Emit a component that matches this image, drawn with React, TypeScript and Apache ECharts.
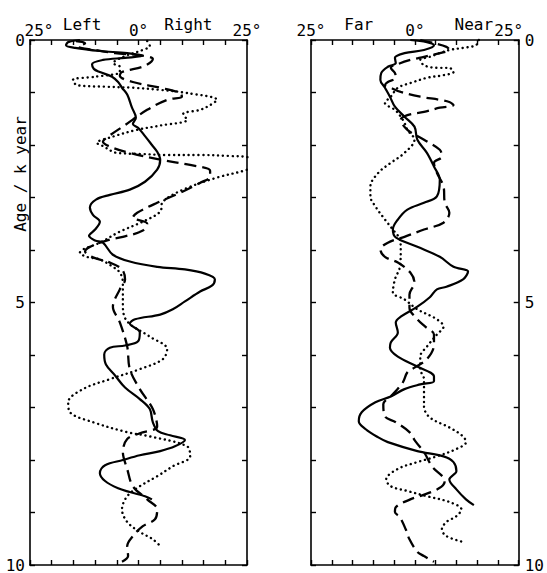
import { useEffect, useRef } from 'react';
import * as echarts from 'echarts';

const FONT = '"DejaVu Sans Mono", "Liberation Mono", monospace';
const INK = '#000000';

// Tick labels
const degreeTicks = [-25, 0, 25];
const ageTicks = [0, 5, 10];
const lateralWords = ['Left', 'Right'];
const depthWords = ['Far', 'Near'];

// Lateral deviation (deg) against age (k year)
const lateralSolid: number[][] = [
  [-13.5, 0], [-16.2, 0.04], [-16.7, 0.1], [-14.6, 0.15], [-8.9, 0.21], [-2.6, 0.25], [1.0, 0.3],
  [-3.1, 0.34], [-8.2, 0.38], [-10.7, 0.46], [-10.3, 0.55], [-8.9, 0.61], [-6.1, 0.7], [-4.7, 0.8],
  [-3.8, 0.91], [-2.6, 1.04], [-1.5, 1.29], [-0.6, 1.48], [-1.3, 1.6], [-0.1, 1.67], [1.5, 1.83],
  [3.1, 2.0], [4.3, 2.13], [5.0, 2.28], [4.3, 2.47], [1.5, 2.7], [-2.0, 2.85], [-6.6, 2.95],
  [-9.8, 3.04], [-11.2, 3.19], [-10.5, 3.33], [-8.9, 3.46], [-10.0, 3.61], [-11.4, 3.73], [-10.0, 3.82],
  [-8.2, 3.86], [-5.9, 4.09], [-2.0, 4.22], [4.3, 4.32], [10.7, 4.37], [15.3, 4.45], [17.6, 4.56],
  [16.9, 4.68], [14.2, 4.79], [10.7, 4.98], [7.9, 5.13], [5.0, 5.23], [-0.8, 5.32], [-2.0, 5.4],
  [0.3, 5.57], [-0.1, 5.74], [-3.1, 5.82], [-6.6, 5.86], [-7.9, 5.99], [-7.5, 6.18], [-5.4, 6.39],
  [-3.1, 6.62], [0.3, 6.84], [2.6, 7.03], [3.3, 7.28], [4.5, 7.45], [7.3, 7.53], [10.7, 7.62],
  [8.4, 7.74], [5.0, 7.83], [0.3, 7.91], [-3.6, 8.0], [-7.7, 8.1], [-8.9, 8.25], [-7.7, 8.4],
  [-4.7, 8.54], [-2.0, 8.61], [1.5, 8.69], [3.1, 8.75],
];

const lateralDashed: number[][] = [
  [-14.4, 0.02], [-12.3, 0.06], [-13.9, 0.13], [-10.0, 0.19], [-5.4, 0.25], [0.3, 0.29], [3.3, 0.36],
  [1.5, 0.49], [-3.8, 0.61], [-4.3, 0.68], [-1.3, 0.8], [5.0, 0.91], [9.6, 1.01], [10.0, 1.08],
  [6.6, 1.14], [2.0, 1.33], [-3.1, 1.62], [-7.0, 1.84], [-8.2, 1.94], [-6.6, 2.03], [-2.0, 2.15],
  [5.0, 2.28], [11.9, 2.38], [16.5, 2.49], [16.5, 2.6], [14.2, 2.72], [9.6, 2.91], [4.3, 3.1],
  [-0.3, 3.29], [-1.3, 3.38], [2.0, 3.5], [1.0, 3.63], [-3.6, 3.75], [-6.6, 3.8], [-11.2, 3.94],
  [-12.3, 4.03], [-10.5, 4.14], [-6.6, 4.24], [-3.8, 4.37], [-3.1, 4.56], [-4.3, 4.75], [-5.9, 5.08],
  [-4.3, 5.38], [-2.6, 5.84], [-2.0, 6.27], [0.3, 6.65], [3.3, 7.03], [4.3, 7.36], [0.3, 7.49],
  [-2.6, 7.6], [-3.6, 7.85], [-2.6, 8.17], [-1.3, 8.5], [2.0, 8.75], [4.3, 8.94], [3.8, 9.13],
  [1.0, 9.26], [-1.3, 9.45], [-2.6, 9.64], [-2.4, 9.83], [-3.8, 9.94],
];

const lateralDotted: number[][] = [
  [2.0, 0.02], [2.6, 0.11], [0.3, 0.21], [-2.6, 0.29], [-5.0, 0.38], [-5.9, 0.44], [-4.3, 0.51],
  [-4.3, 0.61], [-10.0, 0.7], [-15.1, 0.76], [-14.2, 0.86], [-7.7, 0.89], [-1.3, 0.91], [5.0, 0.95],
  [11.2, 1.01], [18.1, 1.14], [16.5, 1.24], [14.2, 1.33], [10.3, 1.41], [11.2, 1.52], [5.0, 1.63],
  [-0.3, 1.71], [-5.9, 1.84], [-9.6, 1.96], [-8.2, 2.02], [-5.0, 2.15], [0.3, 2.17], [6.6, 2.19],
  [14.2, 2.19], [21.1, 2.21], [25.0, 2.23], [28.0, 2.34], [25.0, 2.47], [18.1, 2.62], [10.3, 2.85],
  [5.6, 3.08], [5.0, 3.27], [1.0, 3.46], [-4.3, 3.65], [-8.9, 3.86], [-12.8, 3.99], [-13.5, 4.05],
  [-11.9, 4.13], [-8.9, 4.18], [-5.9, 4.32], [-4.3, 4.43], [-3.6, 4.62], [-3.6, 4.75], [-3.6, 5.08],
  [-2.6, 5.36], [2.6, 5.65], [6.6, 5.89], [5.6, 6.08], [0.3, 6.27], [-6.6, 6.46], [-12.8, 6.65],
  [-16.2, 6.9], [-15.8, 7.09], [-10.5, 7.28], [-2.6, 7.47], [2.6, 7.55], [11.2, 7.74], [11.9, 7.93],
  [7.9, 8.12], [4.3, 8.31], [0.3, 8.5], [-2.6, 8.69], [-3.8, 8.94], [-2.6, 9.18], [0.3, 9.37],
  [3.3, 9.51], [5.0, 9.64],
];

// Depth deviation (deg) against age (k year)
const depthSolid: number[][] = [
  [-1.1, 0], [2.9, 0.04], [4.6, 0.1], [2.2, 0.19], [-2.5, 0.25], [-4.8, 0.34], [-4.6, 0.44],
  [-6.5, 0.51], [-8.1, 0.63], [-8.3, 0.76], [-7.2, 0.91], [-6.0, 1.08], [-4.8, 1.27], [-2.5, 1.46],
  [-0.1, 1.65], [0.6, 1.9], [2.9, 2.15], [4.6, 2.41], [6.0, 2.66], [5.3, 2.98], [2.2, 3.1],
  [-1.8, 3.23], [-4.1, 3.42], [-5.3, 3.61], [-4.6, 3.76], [0.6, 3.94], [6.0, 4.13], [9.3, 4.32],
  [12.8, 4.41], [11.6, 4.56], [7.6, 4.7], [5.3, 4.75], [3.6, 4.9], [0.6, 5.08], [-3.4, 5.27],
  [-4.6, 5.38], [-4.1, 5.57], [-5.8, 5.76], [-6.0, 5.86], [-4.1, 6.03], [0.6, 6.22], [4.6, 6.41],
  [4.6, 6.5], [1.3, 6.56], [-2.5, 6.65], [-5.8, 6.79], [-9.5, 6.9], [-12.8, 7.09], [-13.5, 7.26],
  [-11.9, 7.41], [-8.8, 7.57], [-6.5, 7.66], [0.6, 7.83], [6.9, 7.93], [9.3, 8.04], [10.0, 8.21],
  [8.3, 8.37], [10.0, 8.56], [12.3, 8.75], [14.2, 8.86],
];

const depthDashed: number[][] = [
  [1.3, 0], [4.6, 0.06], [7.6, 0.13], [8.3, 0.19], [6.0, 0.25], [2.2, 0.32], [-1.1, 0.38],
  [-4.1, 0.46], [-5.8, 0.53], [-4.8, 0.63], [-4.6, 0.72], [-6.5, 0.8], [-7.2, 0.86], [-5.8, 0.91],
  [-3.4, 0.99], [1.3, 1.08], [6.0, 1.14], [8.3, 1.18], [9.3, 1.24], [6.0, 1.29], [2.2, 1.37],
  [-1.8, 1.43], [-3.4, 1.52], [-1.8, 1.71], [2.2, 1.9], [6.0, 2.09], [6.5, 2.22], [4.6, 2.34],
  [5.3, 2.53], [6.9, 2.79], [7.2, 3.1], [8.3, 3.29], [6.9, 3.48], [2.2, 3.61], [-2.5, 3.75],
  [-6.5, 3.86], [-8.3, 3.99], [-7.2, 4.13], [-4.1, 4.24], [-1.1, 4.43], [-0.1, 4.62], [-1.3, 4.85],
  [-1.3, 5.1], [0.6, 5.32], [2.5, 5.46], [4.6, 5.61], [4.6, 5.8], [2.9, 6.08], [-0.1, 6.24],
  [-1.8, 6.33], [-2.9, 6.52], [-5.3, 6.75], [-7.6, 6.94], [-7.2, 7.17], [-4.6, 7.28], [-1.3, 7.47],
  [0.1, 7.64], [2.2, 7.85], [4.1, 8.12], [7.2, 8.4], [5.8, 8.54], [1.1, 8.69], [-1.1, 8.75],
  [-4.6, 8.9], [-4.8, 8.99], [-3.6, 9.09], [-2.2, 9.32], [-1.3, 9.51], [0.6, 9.75], [2.2, 9.83],
  [4.6, 9.94],
];

const depthDotted: number[][] = [
  [15.4, 0], [14.7, 0.1], [11.6, 0.15], [8.3, 0.19], [6.0, 0.25], [3.6, 0.32], [1.3, 0.38],
  [2.2, 0.48], [5.3, 0.53], [8.3, 0.53], [9.3, 0.61], [6.9, 0.67], [2.9, 0.72], [-1.1, 0.82],
  [-4.1, 0.91], [-5.8, 1.08], [-7.2, 1.2], [-4.8, 1.33], [-3.4, 1.46], [-2.5, 1.58], [-1.8, 1.71],
  [-0.1, 1.9], [-2.5, 2.15], [-5.8, 2.34], [-8.8, 2.53], [-10.7, 2.79], [-10.7, 2.98], [-9.5, 3.17],
  [-7.2, 3.42], [-5.3, 3.61], [-3.6, 3.8], [-3.4, 3.99], [-3.6, 4.32], [-4.8, 4.56], [-5.3, 4.81],
  [-2.5, 4.94], [0.6, 5.13], [5.3, 5.32], [6.9, 5.46], [5.3, 5.61], [2.9, 5.84], [1.3, 6.03],
  [1.3, 6.27], [2.2, 6.46], [2.2, 6.71], [2.2, 6.98], [3.6, 7.19], [8.3, 7.38], [11.6, 7.55],
  [12.3, 7.66], [10.0, 7.79], [5.3, 7.93], [0.6, 8.04], [-4.1, 8.17], [-6.9, 8.37], [-5.8, 8.5],
  [-1.8, 8.59], [2.9, 8.69], [8.3, 8.8], [11.2, 8.94], [10.0, 9.07], [7.6, 9.18], [6.5, 9.32],
  [7.6, 9.45], [11.6, 9.56],
];

const textBase = { color: INK, fontFamily: FONT, fontSize: 16 };
const frameLine = { show: true, onZero: false, lineStyle: { color: INK, width: 1.6 } };
const innerTick = { show: true, inside: true, length: 5, lineStyle: { color: INK, width: 1.4 } };

type Pad = 'left' | 'right' | 'none';

function degreeAxis(gridIndex: number, pad: Pad) {
  return {
    type: 'value', gridIndex, position: 'top', min: -25, max: 25, interval: 5,
    axisLine: frameLine, axisTick: innerTick, splitLine: { show: false },
    axisLabel: {
      ...textBase, margin: 2, customValues: degreeTicks,
      formatter: (v: number) => {
        const t = `${Math.abs(v)}°`;
        if (pad === 'left' && v === -25) return `{lp|${t}}`;
        if (pad === 'right' && v === 25) return `{rp|${t}}`;
        return t;
      },
      rich: {
        lp: { ...textBase, padding: [0, 0, 0, 18] },
        rp: { ...textBase, padding: [0, 20, 0, 0] },
      },
    },
  };
}

function wordAxis(gridIndex: number, words: string[], at: number[]) {
  return {
    type: 'value', gridIndex, position: 'top', min: -25, max: 25,
    axisLine: { show: false }, axisTick: { show: false }, splitLine: { show: false },
    axisLabel: {
      ...textBase, margin: 8, customValues: at,
      formatter: (v: number) => words[at.indexOf(v)] ?? '',
    },
  };
}

function baseAxis(gridIndex: number) {
  return {
    type: 'value', gridIndex, position: 'bottom', min: -25, max: 25, interval: 5,
    axisLine: frameLine, axisTick: innerTick, splitLine: { show: false },
    axisLabel: { show: false },
  };
}

function ageAxis(gridIndex: number, position: 'left' | 'right', labelled: boolean) {
  return {
    type: 'value', gridIndex, position, inverse: true, min: 0, max: 10, interval: 1,
    axisLine: frameLine, axisTick: innerTick, splitLine: { show: false },
    axisLabel: labelled
      ? { ...textBase, margin: position === 'left' ? 5 : 6, customValues: ageTicks }
      : { show: false },
  };
}

function curve(data: number[][], kind: 'solid' | 'dashed' | 'dotted', xAxisIndex: number, yAxisIndex: number) {
  const lineStyle =
    kind === 'solid'
      ? { color: INK, width: 2.2, type: 'solid' }
      : kind === 'dashed'
      ? { color: INK, width: 2.3, type: [12, 6] }
      : { color: INK, width: 2.4, type: [0.1, 4.8], cap: 'round' };
  return {
    type: 'line', data, xAxisIndex, yAxisIndex, symbol: 'none', showSymbol: false,
    smooth: 0.35, clip: false, silent: true, lineStyle,
  };
}

export default function App() {
  const ref = useRef<HTMLDivElement>(null);

  useEffect(() => {
    if (!ref.current) return;
    const chart = echarts.init(ref.current, undefined, { renderer: 'svg' });
    chart.setOption({
      animation: false,
      backgroundColor: '#ffffff',
      grid: [
        { left: 30, top: 40, width: 217, height: 526 },
        { left: 311, top: 40, width: 213, height: 526 },
      ],
      xAxis: [
        degreeAxis(0, 'left'),
        wordAxis(0, lateralWords, [-13, 11.5]),
        baseAxis(0),
        degreeAxis(1, 'right'),
        wordAxis(1, depthWords, [-13.5, 14.2]),
        baseAxis(1),
      ],
      yAxis: [
        ageAxis(0, 'left', true),
        ageAxis(0, 'right', false),
        ageAxis(1, 'right', true),
        ageAxis(1, 'left', false),
      ],
      graphic: [
        {
          type: 'text', x: 20, y: 174, rotation: Math.PI / 2,
          style: {
            text: 'Age / k year', fill: INK, fontFamily: FONT, fontSize: 16,
            align: 'center', verticalAlign: 'middle',
          },
        },
      ],
      series: [
        curve(lateralSolid, 'solid', 0, 0),
        curve(lateralDashed, 'dashed', 0, 0),
        curve(lateralDotted, 'dotted', 0, 0),
        curve(depthSolid, 'solid', 3, 2),
        curve(depthDashed, 'dashed', 3, 2),
        curve(depthDotted, 'dotted', 3, 2),
      ],
    });
    return () => chart.dispose();
  }, []);

  return (
    <div
      ref={ref}
      style={{ position: 'absolute', left: 0, top: 0, width: 547, height: 573 }}
    />
  );
}
